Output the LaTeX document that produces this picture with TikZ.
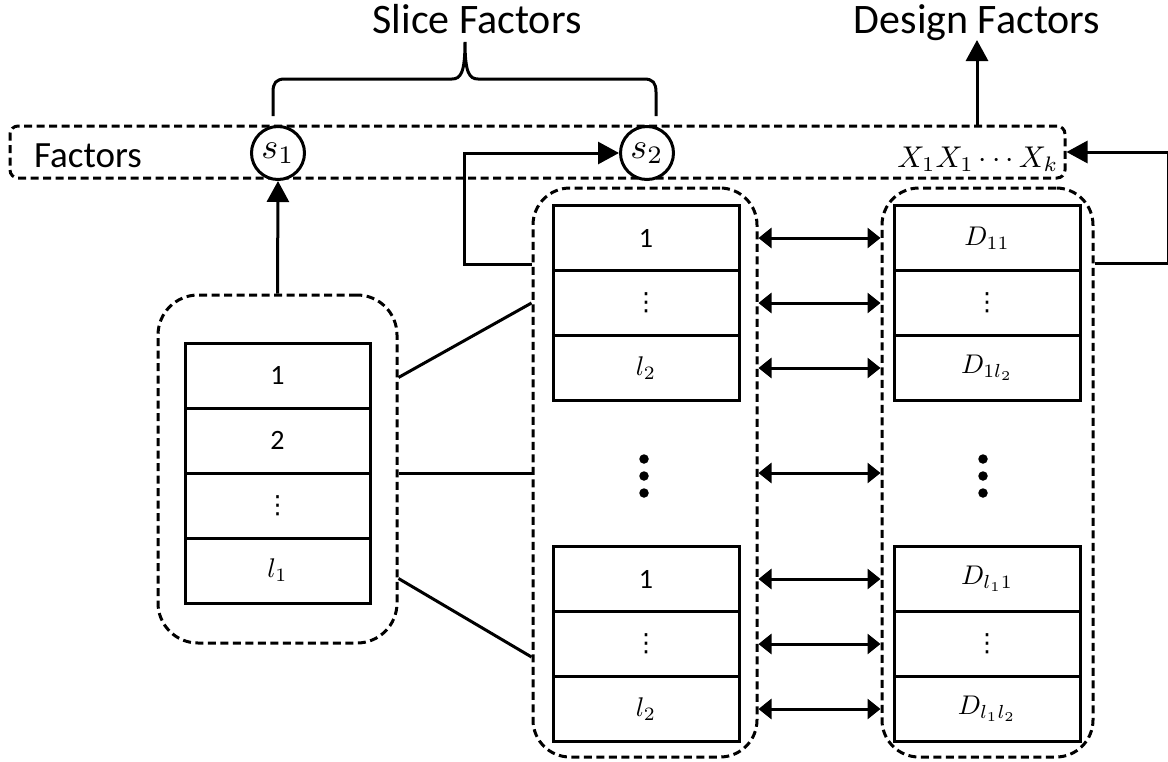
\RequirePackage{fix-cm}
\documentclass[tikz,border=0pt]{standalone}
\usepackage{graphicx}
\usepackage{fontspec}
\setmainfont{Carlito}
\newfontfamily\symfont{DejaVu Sans}
\usetikzlibrary{arrows.meta,calc}
% math set at 10pt and enlarged as a whole
\newcommand{\mlab}[2][2.7]{\scalebox{#1}{\fontsize{10}{12}\selectfont$#2$}}
% small vertical ellipsis inside a cell
\newcommand{\cellvdots}{{\symfont\fontsize{25}{28}\selectfont ⋮}}
\begin{document}
\begin{tikzpicture}[x=1pt,y=-1pt,line width=3pt,
  dashbox/.style={draw,dash pattern=on 8pt off 4.5pt,rounded corners=#1,inner sep=0pt},
  cell/.style={draw,minimum width=186pt,minimum height=65pt,inner sep=0pt,
    font=\fontsize{28}{32}\selectfont},
  arr/.style={-{Triangle[length=21pt,width=22pt]}},
  dbl/.style={{Triangle[length=13pt,width=20pt]}-{Triangle[length=13pt,width=20pt]}},
  title/.style={font=\fontsize{42}{48}\selectfont,anchor=base,inner sep=0pt},
  fac/.style={draw,fill=white,circle,minimum size=53pt,inner sep=0pt},
  bigdot/.style={fill,circle,minimum size=9.5pt,inner sep=0pt}
]
\useasboundingbox (0,0) rectangle (1168,761);

% headings
\node[title] (slice) at (477,33) {Slice Factors};
\node[title] (design) at (977,33) {Design Factors};
\coordinate (dtip) at (977,40);

% factor strip
\node[dashbox=8pt,minimum width=1055pt,minimum height=52pt] (bar) at (537.5,152) {};
\node[anchor=base,inner sep=0pt,font=\fontsize{37}{40}\selectfont] (faclbl) at (88,167) {Factors};
\node[fac] (s1) at (278,153) {\mlab[3.6]{s_1}};
\node[fac] (s2) at (647,153) {\mlab[3.6]{s_2}};
\node[anchor=base east,inner sep=0pt] (xs) at (1060,167) {\mlab[3.0]{X_1X_1\cdots X_k}};

% brace over the slice factors
\draw (273,116) -- (273,92) .. controls (273,83) and (276,79) .. (285,79)
  -- (452,79) .. controls (461,79) and (465,72) .. (465,42)
  .. controls (465,72) and (469,79) .. (478,79)
  -- (644,79) .. controls (653,79) and (656,83) .. (656,92) -- (656,116);

% dashed groups
\node[dashbox=40pt,minimum width=239pt,minimum height=348pt] (lblock) at (277.5,469) {};
\node[dashbox=37pt,minimum width=224pt,minimum height=569pt] (mblock) at (645,472.5) {};
\node[dashbox=37pt,minimum width=211pt,minimum height=569pt] (rblock) at (987.5,472.5) {};

% levels of the first slice factor
\node[cell,minimum width=185pt] (lc1) at (277.5,375.5) {1};
\node[cell,minimum width=185pt] (lc2) at (277.5,440.5) {2};
\node[cell,minimum width=185pt] (lc3) at (277.5,505.5) {\cellvdots};
\node[cell,minimum width=185pt] (lc4) at (277.5,570.5) {\mlab{l_1}};

% levels of the second slice factor
\node[cell] (mc1) at (646,238) {1};
\node[cell] (mc2) at (646,303) {\cellvdots};
\node[cell] (mc3) at (646,368) {\mlab{l_2}};
\node[cell] (mc4) at (646,579) {1};
\node[cell] (mc5) at (646,644) {\cellvdots};
\node[cell] (mc6) at (646,709) {\mlab{l_2}};

% design blocks
\node[cell] (rc1) at (987,238) {\mlab{D_{11}}};
\node[cell] (rc2) at (987,303) {\cellvdots};
\node[cell] (rc3) at (987,368) {\mlab{D_{1l_2}}};
\node[cell] (rc4) at (987,579) {\mlab{D_{l_11}}};
\node[cell] (rc5) at (987,644) {\cellvdots};
\node[cell] (rc6) at (987,709) {\mlab{D_{l_1l_2}}};

% vertical ellipses between the groups
\node[bigdot] (md1) at (644,459) {};
\node[bigdot] (md2) at (644,476) {};
\node[bigdot] (md3) at (644,493) {};
\node[bigdot] (rd1) at (983,459) {};
\node[bigdot] (rd2) at (983,476) {};
\node[bigdot] (rd3) at (983,493) {};
\coordinate (mid) at (645,473);

% correspondences between slices and designs
\foreach \r in {mc1,mc2,mc3,mid,mc4,mc5,mc6}
  \draw[dbl] (mblock.east |- \r) -- (rblock.west |- \r);

% expansion of the first slice factor
\draw ($(lblock.east |- lc1)+(0,2)$) -- (mblock.west |- mc2);
\draw (lblock.east |- mid) -- (mblock.west |- mid);
\draw ($(lblock.east |- lc4)+(0,8)$) -- ($(mblock.west |- mc5)+(0,13)$);

% links to the factor strip
\draw[arr] (lblock.north) -- (s1.south);
\draw[arr] ($(mblock.west |- mc1)+(0,26)$) -- ++(-67,0) |- (s2.west);
\draw[arr] ($(rblock.east |- rc1)+(0,25)$) -- ++(74,0) |- (bar.east);
\draw[arr] (bar.north -| dtip) -- (dtip);
\end{tikzpicture}
\end{document}
